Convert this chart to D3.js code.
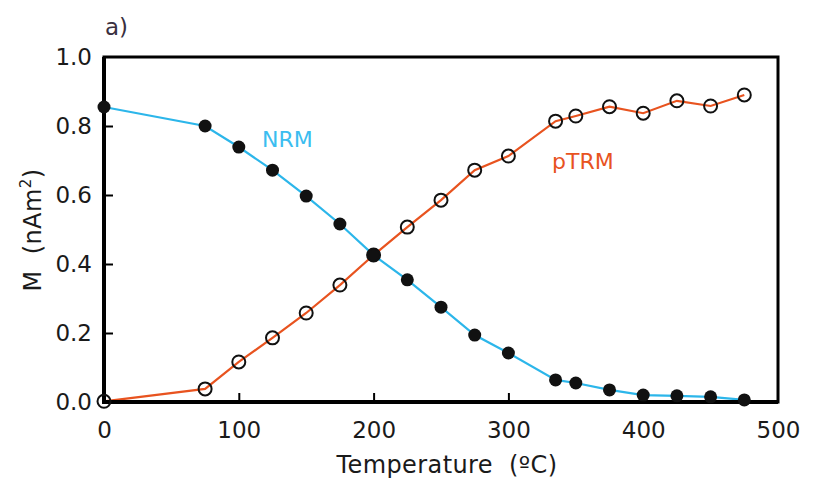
<!DOCTYPE html>
<html><head><meta charset="utf-8">
<script src="https://cdn.jsdelivr.net/npm/d3@7"></script>
<style>body{margin:0;background:#fff}svg{display:block}text{font-family:"DejaVu Sans",sans-serif}</style>
</head><body>
<svg id="c" width="825" height="480"></svg>
<script>
const temps = [0,75,100,125,150,175,200,225,250,275,300,335,350,375,400,425,450,475];
const nrm  = [0.855,0.800,0.739,0.672,0.597,0.516,0.426,0.354,0.275,0.194,0.142,0.064,0.055,0.035,0.020,0.018,0.015,0.006];
const ptrm = [0.002,0.038,0.116,0.186,0.258,0.339,0.426,0.507,0.585,0.672,0.713,0.814,0.829,0.856,0.837,0.873,0.858,0.890];
const xTicks = [0,100,200,300,400,500];
const yTicks = [0,0.2,0.4,0.6,0.8,1.0];
const yTickLabels = ["0.0","0.2","0.4","0.6","0.8","1.0"];

const svg = d3.select("#c");
const L=104, R=778, T=57, B=402;
const x = d3.scaleLinear().domain([0,500]).range([L,R]);
const y = d3.scaleLinear().domain([0,1]).range([B,T]);
const blue="#2cb6ea", orange="#e8531f";
const FONT = "DejaVu Sans, sans-serif";

// lines
const line = d3.line().x((d,i)=>x(temps[i])).y(d=>y(d));
svg.append("path").datum(nrm).attr("d",line).attr("fill","none").attr("stroke",blue).attr("stroke-width",2.2);
svg.append("path").datum(ptrm).attr("d",line).attr("fill","none").attr("stroke",orange).attr("stroke-width",2.2);

// frame
svg.append("rect").attr("x",L).attr("y",T).attr("width",R-L).attr("height",B-T)
  .attr("fill","none").attr("stroke","#000").attr("stroke-width",3);
svg.append("path").attr("d",`M${L},${T}V${B}H${R}`).attr("fill","none").attr("stroke","#000").attr("stroke-width",4);

// axes
const xAxis = d3.axisBottom(x).tickValues(xTicks).tickSize(-9).tickPadding(20).tickFormat(d3.format("d"));
const gx = svg.append("g").attr("transform",`translate(0,${B})`).call(xAxis);
const yAxis = d3.axisLeft(y).tickValues(yTicks).tickSize(-9).tickPadding(12).tickFormat((d,i)=>yTickLabels[i]);
const gy = svg.append("g").attr("transform",`translate(${L},0)`).call(yAxis);
[gx,gy].forEach(g=>{
  g.select(".domain").remove();
  g.selectAll(".tick line").attr("stroke","#000").attr("stroke-width",2);
  g.selectAll(".tick text").attr("font-size",23).attr("fill","#1a1a1a").attr("font-family",FONT);
});
gx.selectAll(".tick").filter(d=>d===0||d===500).select("line").remove();
gy.selectAll(".tick").filter(d=>d===0||d===1).select("line").remove();

// points
svg.append("g").selectAll("circle").data(nrm).join("circle")
  .attr("cx",(d,i)=>x(temps[i])).attr("cy",d=>y(d)).attr("r",6.5).attr("fill","#111");
svg.append("g").selectAll("circle").data(ptrm).join("circle")
  .attr("cx",(d,i)=>x(temps[i])).attr("cy",d=>y(d)).attr("r",6.5).attr("fill","none").attr("stroke","#111").attr("stroke-width",2);

// labels
svg.append("text").attr("x",262).attr("y",147).attr("font-size",22).attr("fill","#3bbdf0").text("NRM");
svg.append("text").attr("x",552).attr("y",169).attr("font-size",22).attr("fill",orange).text("pTRM");
svg.append("text").attr("x",105).attr("y",35).attr("font-size",23).attr("fill","#3a3040").text("a)");
svg.append("text").attr("x",447).attr("y",473).attr("text-anchor","middle").attr("font-size",24).attr("fill","#1a1a1a")
  .attr("letter-spacing",0.4).attr("xml:space","preserve").text("Temperature  (ºC)");
const yl = svg.append("text").attr("transform","translate(41,230) rotate(-90)").attr("text-anchor","middle").attr("font-size",24).attr("fill","#1a1a1a").attr("letter-spacing",0.4).attr("xml:space","preserve");
yl.append("tspan").text("M  (nAm");
yl.append("tspan").attr("font-size",15).attr("dy",-10).text("2");
yl.append("tspan").attr("dy",10).text(")");
</script>
</body></html>
